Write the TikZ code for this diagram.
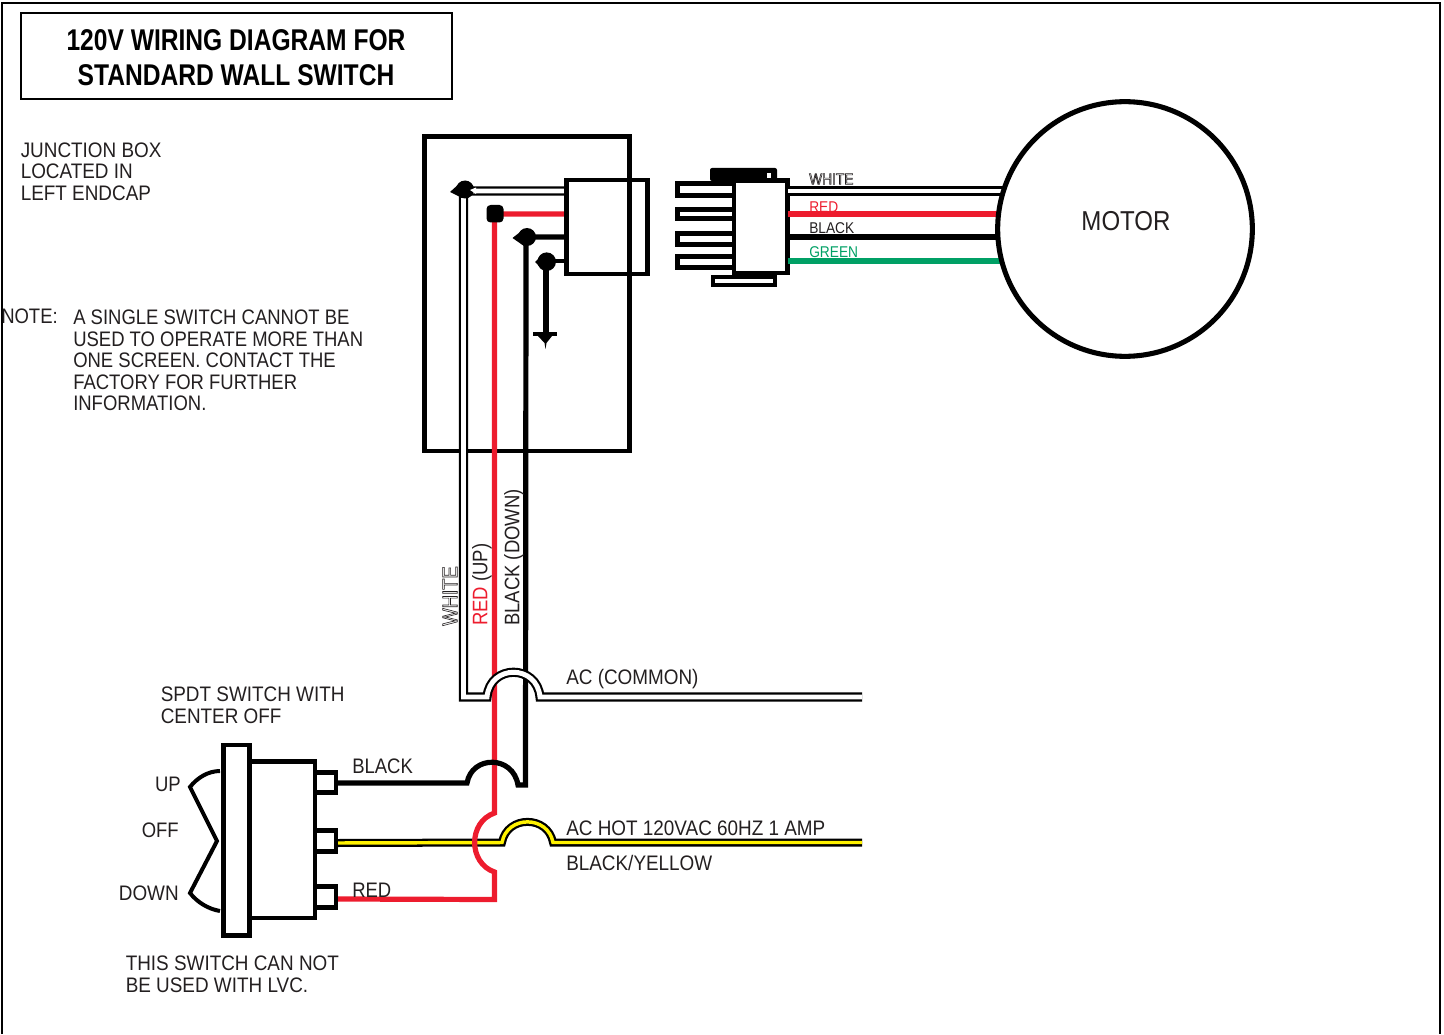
\documentclass[tikz,border=0pt]{standalone}
\usepackage{fontspec}
\usepackage{xcolor}
\setmainfont{Liberation Sans}
\newfontfamily\lblf[FakeStretch=0.88]{Liberation Sans}
\newfontfamily\lblw[FakeStretch=0.90]{Liberation Sans}
\newfontfamily\ttlf[FakeStretch=0.82]{Liberation Sans Bold}
\definecolor{wred}{HTML}{ED1C2E}
\definecolor{wgreen}{HTML}{00A065}
\definecolor{wyellow}{HTML}{FFF200}
\definecolor{ink}{HTML}{231F20}
\newcommand{\outl}[1]{\special{pdf:code q 1 Tr 0.45 w}#1\special{pdf:code Q}}
\tikzset{
  lbl/.style={inner sep=0pt,anchor=west,align=left,text=ink,font=\lblf\fontsize{15.75}{16.1}\selectfont},
  lblwide/.style={inner sep=0pt,anchor=west,align=left,text=ink,font=\lblw\fontsize{15.75}{16.1}\selectfont},
  small/.style={inner sep=0pt,anchor=west,font=\lblf\fontsize{11.7}{12}\selectfont},
  ttl/.style={inner sep=0pt,anchor=center,align=center,font=\ttlf\fontsize{22.5}{26}\selectfont},
  frame/.style={draw=black,line width=1.5pt},
  thick box/.style={draw=black,line width=3.6pt,miter limit=10,fill=white},
  mid box/.style={draw=black,line width=3.4pt,fill=white},
  blob/.style={fill=black,draw=none},
  wire/.style={draw=#1,line width=3.9pt,line join=miter},
  whitewire/.style={draw=black,double=white,line width=1.6pt,double distance=3.7pt,line join=miter},
  yellowwire/.style={draw=black,double=wyellow,line width=1.7pt,double distance=2.6pt,line join=miter},
}
\begin{document}
\begin{tikzpicture}[x=0.75pt,y=-0.75pt]
\useasboundingbox (0,0) rectangle (1444,1034);
% outer frame
\draw[frame] (2,1034) -- (2,3) -- (1440,3) -- (1440,1034);
% title
\node[draw=black,line width=1.2pt,minimum width=323pt,minimum height=64.5pt,inner sep=0pt,anchor=north west] (titlebox) at (20.3,12.3) {};
\node[ttl] (t1) at (236,40) {120V WIRING DIAGRAM FOR};
\node[ttl] (t2) at (236,75) {STANDARD WALL SWITCH};
% free labels
\node[lblwide,anchor=north west] (jb) at (20.5,142.5) {JUNCTION BOX\\LOCATED IN\\LEFT ENDCAP};
\node[lbl,anchor=base west] (nt) at (1,323) {NOTE:};
\node[lbl,anchor=north west] (nb) at (73,310) {A SINGLE SWITCH CANNOT BE\\USED TO OPERATE MORE THAN\\ONE SCREEN. CONTACT THE\\FACTORY FOR FURTHER\\INFORMATION.};
\node[lblwide,anchor=north west] (sp) at (160.5,687) {SPDT SWITCH WITH\\CENTER OFF};
\node[lblwide,anchor=north west] (lv) at (125.5,956) {THIS SWITCH CAN NOT\\BE USED WITH LVC.};
% junction box
\draw[thick box] (424.5,136.5) rectangle (629.5,451);
% named points
\coordinate (wtop) at (463.5,191);
\coordinate (rtop) at (494.5,214);
\coordinate (btop) at (526,237);
\coordinate (gtop) at (546,261);
\coordinate (gbot) at (546,334);
\coordinate (swB) at (336,783);
\coordinate (swH) at (336,843);
\coordinate (swR) at (336,899);
% AC hot
\draw[yellowwire] (swH) -- (502,842.5) .. controls (507,815) and (548,815) .. (553,842.5) -- (862,842.5);
% red
\draw[wire=wred] (567,214) -- (rtop) -- (494.5,813) .. controls (468,822) and (468,863) .. (494.5,872) -- (494.5,899.5) -- (swR);
% black
\draw[wire=black] (567,237) -- (btop) -- (525.5,785) -- (518,785) .. controls (513,755) and (472,755) .. (467,783) -- (swB);
% white / AC common
\draw[whitewire] (567,191) -- (wtop) -- (463.5,697) -- (487,697) .. controls (490,664) and (537,664) .. (540,697) -- (862,697);
% ground
\draw[line width=3pt] (567,261) -- (gtop);
\draw[wire=black] (gtop) -- (gbot);
\draw[line width=3.6pt] (533,334) -- (557,334);
\fill (538,336) -- (552,336) -- (546.5,343) -- (545.5,349) -- (544.5,343) -- cycle;
% blobs
\fill[blob] (465,189.5) circle[radius=9];
\fill[blob] (450,192) -- (460,183) -- (462,198) -- cycle;
\fill[white] (470,190) -- (476,187.5) -- (476,194) -- cycle;
\fill[blob,rounded corners=3pt] (486.5,205) rectangle (503.5,222.5);
\fill[blob] (527,237) circle[radius=9];
\fill[blob] (512.5,238) -- (524,229) -- (524,246) -- cycle;
\fill[blob] (546.7,261.7) circle[radius=9.3];
\fill[blob] (535,262) -- (542,255) -- (542,269) -- cycle;
% inner connector
\draw[line width=3.4pt] (566.7,180) rectangle (647.7,274);
% right connector
\foreach \ya/\yb in {183.5/195.5,209.5/218.5,233.5/244.5,256.5/267.5}
  \draw[mid box] (733,\ya) -- (677.5,\ya) -- (677.5,\yb) -- (733,\yb);
\fill[rounded corners=1.5pt] (710,168) rectangle (777,181);
\fill[white] (767,173) rectangle (771,178);
\draw[line width=3pt,fill=white] (713,277) rectangle (775,284.5);
\draw[mid box] (734,180.5) rectangle (787.5,273);
% motor wires
\coordinate (mw) at (1003,191);
\coordinate (mr) at (998,214);
\coordinate (mb) at (998,237);
\coordinate (mg) at (1000,261);
\draw[whitewire] (788,191) -- (mw);
\draw[wire=wred] (788,214) -- (mr);
\draw[wire=black] (788,237) -- (mb);
\draw[wire=wgreen] (788,261) -- (mg);
\node[draw=black,line width=3.8pt,circle,minimum size=191pt,inner sep=0pt] (motor) at (1125,229) {};
\node[inner sep=0pt,font=\lblf\fontsize{20.5}{24}\selectfont,text=ink] (motorl) at (1126,221) {MOTOR};
% wire labels
\node[small,text=ink] (lw) at (809,179) {\outl{WHITE}};
\node[small,text=wred] (lr) at (809,207) {RED};
\node[small,text=ink] (lb) at (809,228) {BLACK};
\node[small,text=wgreen] (lg) at (809,252) {GREEN};
% vertical labels
\node[lbl,rotate=90] (vw) at (450,626) {\outl{WHITE}};
\node[lbl,rotate=90] (vr) at (482,626) {\textcolor{wred}{RED} (UP)};
\node[lbl,rotate=90] (vb) at (514,626) {BLACK (DOWN)};
% wire names
\node[lblwide] (ac) at (566,679) {AC (COMMON)};
\node[lblwide] (hot) at (566,828) {AC HOT 120VAC 60HZ 1 AMP};
\node[lblwide] (by) at (566,863) {BLACK/YELLOW};
\node[lbl] (sb) at (352,766) {BLACK};
\node[lbl] (sr) at (352,890) {RED};
% switch
\draw[line width=3.4pt,fill=white] (250,761.5) -- (315,761.5) -- (315,918) -- (250,918);
\foreach \ya/\yb in {772.5/792.5,830.5/851.5,886.5/907.5}
  \draw[line width=3.2pt,fill=white] (315,\ya) rectangle (336,\yb);
\draw[line width=3.6pt,fill=white] (223.5,745) rectangle (249.5,935.5);
\draw[line width=3pt,line join=miter] (220,771) .. controls (208,771) and (197,778) .. (190,787) -- (217,841) -- (190,893) .. controls (197,902) and (208,909) .. (220,911);
\node[lbl,anchor=east] (up) at (181,784) {UP};
\node[lbl,anchor=east] (of) at (179,830) {OFF};
\node[lblwide,anchor=east] (dn) at (179,893) {DOWN};
\end{tikzpicture}
\end{document}
